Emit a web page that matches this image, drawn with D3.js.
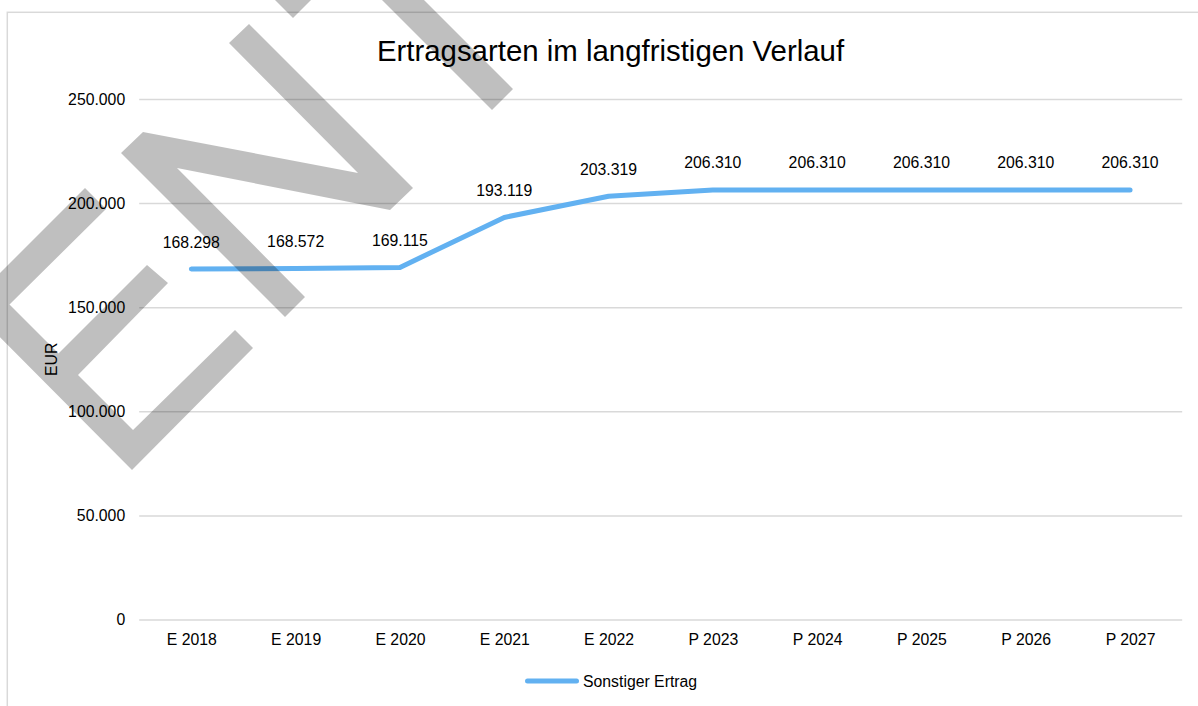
<!DOCTYPE html>
<html>
<head>
<meta charset="utf-8">
<script src="https://cdn.jsdelivr.net/npm/d3@7"></script>
<style>
  html, body { margin: 0; padding: 0; background: #ffffff; }
  svg { display: block; }
  text { font-family: "Liberation Sans", Arial, Helvetica, sans-serif; fill: #000; }
</style>
</head>
<body>
<svg id="chart" width="1198" height="706"></svg>
<script>
// ---- data ----
const categories = ["E 2018", "E 2019", "E 2020", "E 2021", "E 2022", "P 2023", "P 2024", "P 2025", "P 2026", "P 2027"];
const sonstigerErtrag = [168298, 168572, 169115, 193119, 203319, 206310, 206310, 206310, 206310, 206310];
const yTicks = [0, 50000, 100000, 150000, 200000, 250000];
const seriesName = "Sonstiger Ertrag";
const chartTitle = "Ertragsarten im langfristigen Verlauf";
const yAxisTitle = "EUR";

// ---- drawing ----
const W = 1198, H = 706;
const svg = d3.select("#chart");
const lineColor = "#62b1f1";
const gridColor = "#d9d9d9";
const fs = 15.8;

const de = d3.formatLocale({ decimal: ",", thousands: ".", grouping: [3], currency: ["", " €"] });
const fmt = de.format(",d");

const plot = { left: 139.2, right: 1182.2, top: 99, bottom: 619.5 };

const x = d3.scalePoint().domain(categories).range([plot.left, plot.right]).padding(0.5);
const y = d3.scaleLinear().domain([0, 250000]).range([plot.bottom, plot.top]);

// outer chart border
svg.append("rect")
  .attr("x", 7.3).attr("y", 12.3)
  .attr("width", W).attr("height", H)
  .attr("fill", "none").attr("stroke", gridColor).attr("stroke-width", 1.5);

// title
svg.append("text")
  .attr("x", 610.5).attr("y", 61)
  .attr("text-anchor", "middle")
  .style("font-size", "29.4px")
  .text(chartTitle);

// gridlines + y axis labels
const yAxis = d3.axisLeft(y).tickValues(yTicks).tickFormat(fmt)
  .tickSize(-(plot.right - plot.left)).tickPadding(14);
const gy = svg.append("g").attr("transform", `translate(${plot.left},0)`).call(yAxis);
gy.select(".domain").remove();
gy.selectAll(".tick line").attr("stroke", gridColor).attr("stroke-width", 1.5);
gy.selectAll(".tick text")
  .style("font-size", fs + "px")
  .style("font-family", '"Liberation Sans", Arial, sans-serif')
  .attr("fill", "#000");

// x axis labels
const xAxis = d3.axisBottom(x).tickSize(0).tickPadding(0);
const gx = svg.append("g").attr("transform", `translate(0,${plot.bottom})`).call(xAxis);
gx.select(".domain").remove();
gx.selectAll(".tick text")
  .attr("dy", null).attr("y", 25)
  .style("font-size", fs + "px")
  .style("font-family", '"Liberation Sans", Arial, sans-serif')
  .attr("fill", "#000");

// y axis title
svg.append("text")
  .attr("transform", `translate(57,${(plot.top + plot.bottom) / 2}) rotate(-90)`)
  .attr("text-anchor", "middle")
  .style("font-size", fs + "px")
  .text(yAxisTitle);

// line
const pts = categories.map((c, i) => ({ c, v: sonstigerErtrag[i] }));
const line = d3.line().x(d => x(d.c)).y(d => y(d.v));
svg.append("path")
  .datum(pts)
  .attr("d", line)
  .attr("fill", "none")
  .attr("stroke", lineColor)
  .attr("stroke-width", 5)
  .attr("stroke-linecap", "round")
  .attr("stroke-linejoin", "round");

// data labels
svg.append("g").selectAll("text")
  .data(pts).join("text")
  .attr("x", d => x(d.c))
  .attr("y", d => y(d.v) - 21.5)
  .attr("text-anchor", "middle")
  .style("font-size", fs + "px")
  .text(d => fmt(d.v));

// legend
const lg = svg.append("g");
lg.append("line")
  .attr("x1", 527.5).attr("x2", 576.5).attr("y1", 681).attr("y2", 681)
  .attr("stroke", lineColor).attr("stroke-width", 5).attr("stroke-linecap", "round");
lg.append("text")
  .attr("x", 583).attr("y", 687)
  .style("font-size", fs + "px")
  .text(seriesName);

// watermark (decoration, drawn on top)
const watermarkShapes = [
  // E
  [[-32,305],[85,188],[106,209],[9.5,304.5],[58.5,353.5],[147,265],[168,283],[78,375],[133,430],[235,330],[253,348],[132,470]],
  // N
  [[285,317],[121,153],[143,132],[358,173],[229,43],[249,24],[413,188],[390,210],[177,168],[305,297]],
  // T
  [[293,18],[272,-3],[400,-131],[421,-110],[367.5,-56.5],[513,89],[492,110],[346.5,-35.5]]
];
svg.append("g").selectAll("path")
  .data(watermarkShapes).join("path")
  .attr("d", d => "M" + d.map(p => p.join(",")).join("L") + "Z")
  .attr("fill", "#000")
  .attr("fill-opacity", 0.25);
</script>
</body>
</html>
